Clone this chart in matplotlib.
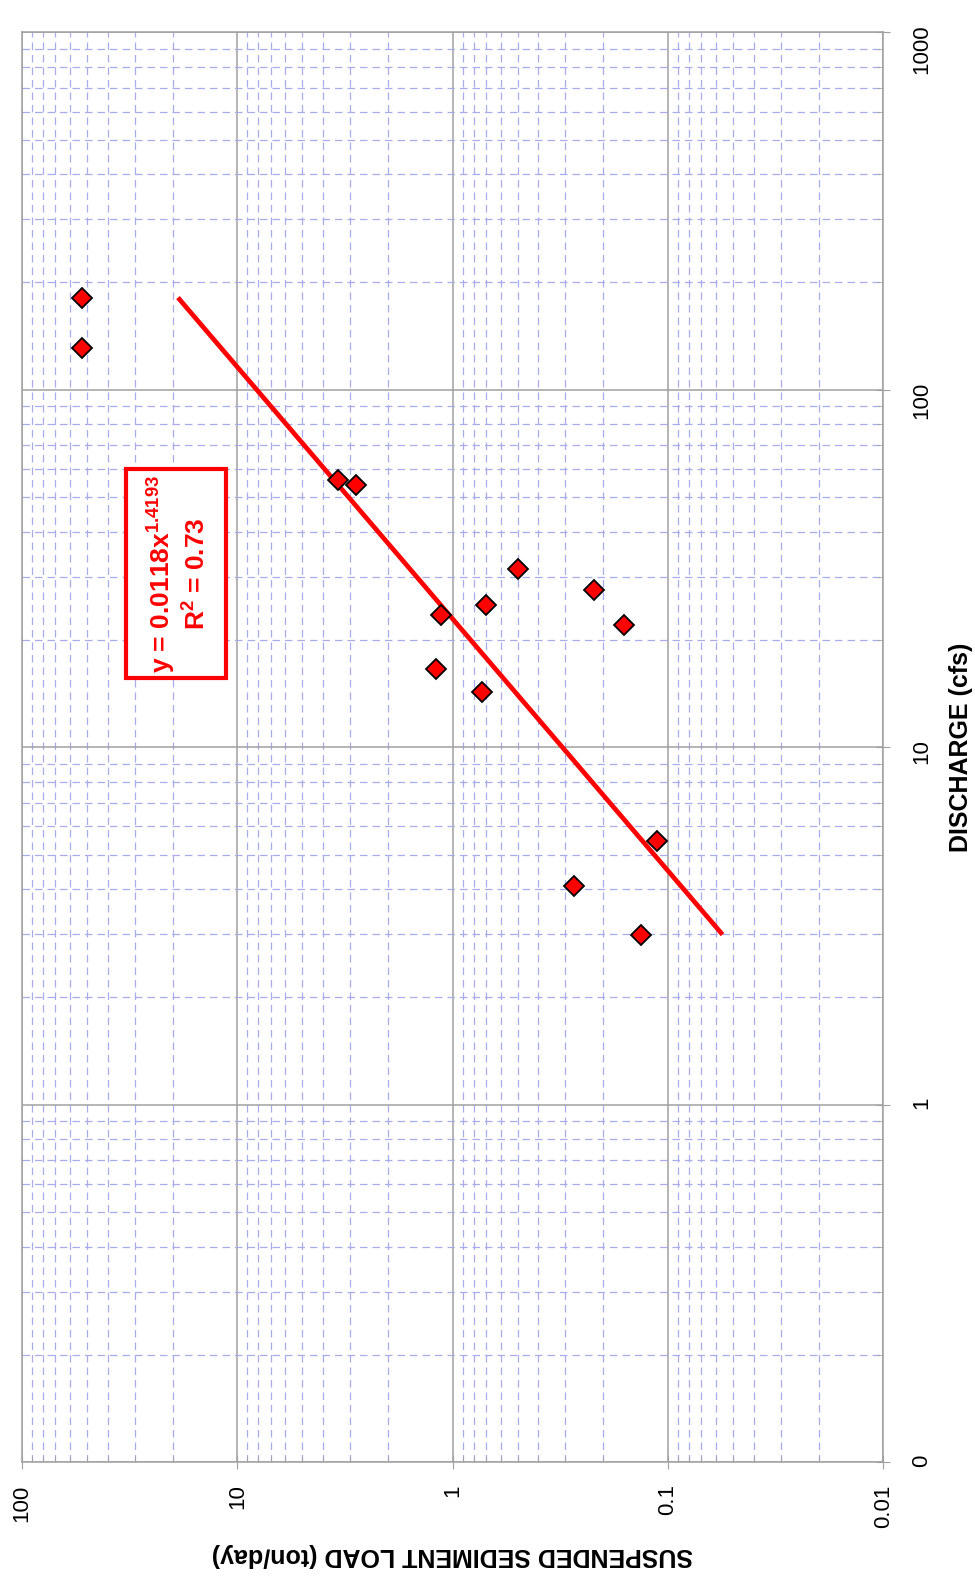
#!/usr/bin/env python3
"""
Suspended sediment load vs discharge rating curve (log-log), drawn in the
rotated page layout: load runs along the bottom, discharge up the right side.

Output: out.png (975x1579)
"""
import matplotlib

matplotlib.use("Agg")
import matplotlib.pyplot as plt
import numpy as np
from matplotlib.patches import Rectangle
from matplotlib.ticker import FuncFormatter, LogLocator

# measured samples
discharge_cfs = [181, 131, 56, 54, 31.5, 27.5, 25, 23.4, 22, 16.5, 14.3, 5.45, 4.08, 2.99]
load_tpd = [52.6, 52.6, 3.4, 2.8, 0.50, 0.22, 0.70, 1.13, 0.16, 1.2, 0.73, 0.112, 0.273, 0.133]

# power-law fit y = a * x^b
fit_a = 0.0118
fit_b = 1.4193
fit_r2 = 0.73

load_lim = (100, 0.01)
discharge_lim = (0.1, 1000)

GRAY = "#a0a0a0"
MINOR = "#a8acec"
RED = "#ff0000"
NARROW = ["Liberation Sans Narrow", "Liberation Sans", "DejaVu Sans"]

plt.rcParams["font.family"] = ["Liberation Sans", "DejaVu Sans"]
plt.rcParams["mathtext.default"] = "regular"


def main() -> int:
    fig = plt.figure(figsize=(9.75, 15.79), dpi=100)
    ax = fig.add_axes([0.0227, 0.074, 0.8833, 0.9056])

    ax.set_xscale("log")
    ax.set_yscale("log")
    ax.set_xlim(*load_lim)
    ax.set_ylim(*discharge_lim)

    sub = np.arange(2, 10)
    ax.xaxis.set_minor_locator(LogLocator(base=10, subs=sub, numticks=20))
    ax.yaxis.set_minor_locator(LogLocator(base=10, subs=sub, numticks=20))
    ax.xaxis.set_major_locator(LogLocator(base=10, numticks=20))
    ax.yaxis.set_major_locator(LogLocator(base=10, numticks=20))
    ax.xaxis.set_major_formatter(FuncFormatter(lambda v, p: f"{v:g}"))
    ax.yaxis.set_major_formatter(FuncFormatter(lambda v, p: f"{v:.0f}"))

    ax.grid(which="minor", color=MINOR, lw=0.9, ls=(0, (6, 4)))
    ax.grid(which="major", color=GRAY, lw=1.1, ls="-")
    ax.set_axisbelow(True)

    ax.yaxis.tick_right()
    ax.yaxis.set_label_position("right")
    for s in ax.spines.values():
        s.set_color(GRAY)
        s.set_linewidth(1.1)
    ax.tick_params(which="major", direction="inout", length=10, color=GRAY,
                   labelsize=16)
    ax.tick_params(which="minor", direction="in", length=4, color=GRAY)
    ax.tick_params(axis="x", labelrotation=90, pad=11)
    ax.tick_params(axis="y", labelrotation=90, pad=15)

    # trend line over the range of sampled discharge
    q = np.linspace(min(discharge_cfs), max(discharge_cfs), 200)
    ax.plot(fit_a * q ** fit_b, q, color=RED, lw=3.4, solid_capstyle="butt", zorder=3)

    ax.plot(load_tpd, discharge_cfs, ls="none", marker="D", ms=10,
            mfc=RED, mec="black", mew=1.3, zorder=4)

    ax.set_xlabel("SUSPENDED SEDIMENT LOAD (ton/day)", rotation=180,
                  fontsize=18, fontweight="bold", family=NARROW, labelpad=11)
    ax.set_ylabel("DISCHARGE (cfs)", rotation=90, fontsize=18,
                  fontweight="bold", family=NARROW, labelpad=12)

    fig.patches.append(Rectangle((0.1291, 0.5708), 0.1023, 0.1320,
                                 transform=fig.transFigure, fc="white",
                                 ec=RED, lw=3, zorder=5))
    fig.text(0.1829, 0.6365,
             f"y = {fit_a}x$^{{{fit_b}}}$\nR$^{{2}}$ = {fit_r2}",
             rotation=90, ha="center", va="center", multialignment="center",
             color=RED, fontsize=19, fontweight="bold", family=NARROW,
             linespacing=1.25, zorder=6)

    fig.savefig("out.png", dpi=100)
    plt.close(fig)
    return 0


if __name__ == "__main__":
    raise SystemExit(main())
